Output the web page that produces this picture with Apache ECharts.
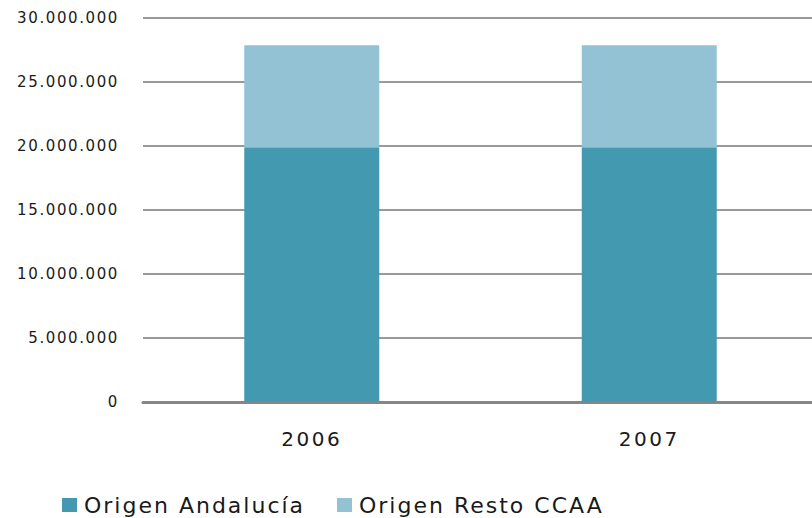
<!DOCTYPE html>
<html>
<head>
<meta charset="utf-8">
<script src="https://cdn.jsdelivr.net/npm/echarts@6/dist/echarts.min.js"></script>
<style>
  html, body { margin: 0; padding: 0; background: #fff; overflow: hidden; }
  /* plot runs a little past the right edge in the source, so the box is wider than the window */
  #main { width: 818px; height: 518px; }
  /* the source text is drawn wide; widen it with letter spacing per size */
  #main svg text[style*="15px"] { letter-spacing: 1.6px; }
  #main svg text[style*="20px"] { letter-spacing: 2.5px; }
  #main svg text[style*="22px"] { letter-spacing: 2px; }
</style>
</head>
<body>
<div id="main"></div>
<script>
const years = ['2006', '2007'];
const origenAndalucia = [19900000, 19900000];
const origenResto = [7970000, 7970000];
const yTicks = { min: 0, max: 30000000, interval: 5000000 };

const chart = echarts.init(document.getElementById('main'), null, { renderer: 'svg' });

const fmt = (v) => String(v).replace(/\B(?=(\d{3})+(?!\d))/g, '.');

const legendText = {
    fontFamily: 'DejaVu Sans',
    fontSize: 22,
    color: '#1a1a1a',
    padding: [0, 0, 0, 2]
};

const options = {
    animation: false,
    backgroundColor: '#fff',
    grid: { left: 143, right: 0, top: 18, bottom: 116 },
    legend: [
        {
            left: 62, top: 494, padding: 0,
            itemWidth: 15, itemHeight: 14,
            icon: 'rect',
            textStyle: legendText,
            data: ['Origen Andalucía']
        },
        {
            left: 337, top: 494, padding: 0,
            itemWidth: 15, itemHeight: 14,
            icon: 'rect',
            textStyle: legendText,
            data: ['Origen Resto CCAA']
        }
    ],
    xAxis: {
        type: 'category',
        data: years,
        axisTick: { show: false },
        axisLine: { lineStyle: { color: '#868686', width: 3 } },
        axisLabel: {
            margin: 27,
            fontFamily: 'DejaVu Sans',
            fontSize: 20,
            color: '#1a1a1a'
        }
    },
    yAxis: {
        type: 'value',
        min: yTicks.min,
        max: yTicks.max,
        interval: yTicks.interval,
        axisLine: { show: false },
        axisTick: { show: false },
        splitLine: { lineStyle: { color: '#999999', width: 2 } },
        axisLabel: {
            margin: 24,
            fontFamily: 'DejaVu Sans',
            fontSize: 15,
            color: '#1a1a1a',
            formatter: fmt
        }
    },
    series: [
        {
            name: 'Origen Andalucía',
            type: 'bar',
            stack: 'total',
            barWidth: 135,
            itemStyle: { color: '#4399b0' },
            data: origenAndalucia
        },
        {
            name: 'Origen Resto CCAA',
            type: 'bar',
            stack: 'total',
            barWidth: 135,
            itemStyle: { color: '#93c2d4' },
            data: origenResto
        }
    ]
};

chart.setOption(options);
</script>
</body>
</html>
